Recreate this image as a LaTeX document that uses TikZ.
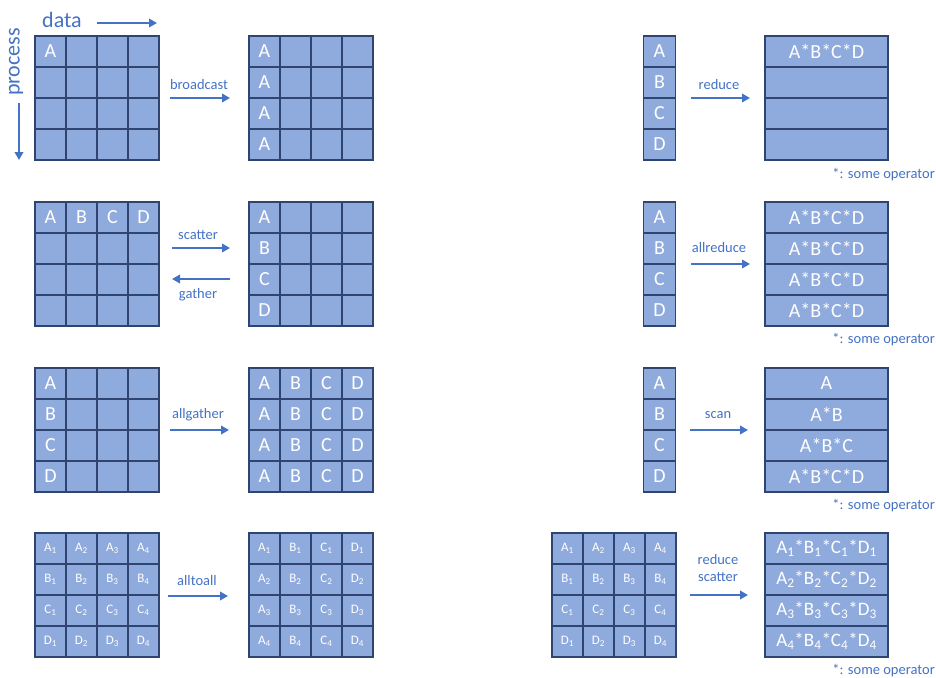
\documentclass[tikz,border=0pt]{standalone}
\usepackage{fontspec}
\setmainfont{Carlito}
\usetikzlibrary{arrows.meta}
\definecolor{cellblue}{HTML}{8FAADC}
\definecolor{gridline}{HTML}{2F4470}
\definecolor{opblue}{HTML}{4472C4}

\begin{document}
\begin{tikzpicture}[x=1pt,y=-1pt,
  cell/.style={draw=gridline,line width=1.1pt,fill=cellblue,minimum width=31pt,minimum height=31pt,inner sep=0pt},
  colcell/.style={cell,minimum width=32pt},
  rowcell/.style={cell,minimum width=123pt},
  txt/.style={text=white,inner sep=0pt,font=\fontsize{20}{24}\selectfont},
  subtxt/.style={text=white,inner sep=0pt,font=\fontsize{13}{15}\selectfont},
  optxt/.style={text=white,inner sep=0pt,font=\fontsize{19}{22}\selectfont},
  op/.style={opblue,line width=2.8pt,-{Triangle[length=8pt,width=8.5pt]}},
  lbl/.style={text=opblue,inner sep=0pt,font=\fontsize{14.5}{17}\selectfont},
  note/.style={lbl,anchor=east},
  axis/.style={text=opblue,inner sep=0pt,font=\fontsize{22}{26}\selectfont}]
  \useasboundingbox (0,0) rectangle (936,677);

  % axes
  \node[axis] (data) at (62,20) {data};
  \coordinate (data-s) at (97,23);
  \coordinate (data-e) at (157,23);
  \draw[op] (data-s) -- (data-e);
  \node[axis,rotate=90] (process) at (16,62) {process};
  \coordinate (proc-s) at (19,103);
  \coordinate (proc-e) at (19,160);
  \draw[op] (proc-s) -- (proc-e);

  % 4x4 grids
  \foreach \g/\x/\y in {bc1/35/36,bc2/249/36,sc1/35/202,sc2/249/202,ag1/35/368,ag2/249/368,aa1/35/533,aa2/249/533,rs1/552/533}
    \foreach \r in {0,...,3}
      \foreach \k in {0,...,3}
        \node[cell] (\g-\r\k) at (\x+15.5+31*\k,\y+15.5+31*\r) {};

  % single columns and wide rows
  \foreach \g/\y in {rd1/36,ar1/202,sn1/368}
    \foreach \r/\t in {0/A,1/B,2/C,3/D} {
      \node[colcell] (\g-\r) at (659.5,\y+15.5+31*\r) {};
      \node[txt] (t\g-\r) at (\g-\r) {\t};
    }
  \foreach \g/\y in {rd2/36,ar2/202,sn2/368,rs2/533}
    \foreach \r in {0,...,3}
      \node[rowcell] (\g-\r) at (826.5,\y+15.5+31*\r) {};

  % cell texts
  \foreach \c/\t in {bc1-00/A,bc2-00/A,bc2-10/A,bc2-20/A,bc2-30/A,
      sc1-00/A,sc1-01/B,sc1-02/C,sc1-03/D,sc2-00/A,sc2-10/B,sc2-20/C,sc2-30/D,
      ag1-00/A,ag1-10/B,ag1-20/C,ag1-30/D}
    \node[txt] (t\c) at (\c) {\t};
  \foreach \r in {0,...,3}
    \foreach \k/\u in {0/A,1/B,2/C,3/D}
      \node[txt] (tag2-\r\k) at (ag2-\r\k) {\u};
  \foreach \r/\t in {0/A,1/B,2/C,3/D}
    \foreach \k in {1,...,4} {
      \pgfmathtruncatemacro\j{\k-1}
      \node[subtxt] (taa1-\r\j) at (aa1-\r\j) {\t\textsubscript{\k}};
      \node[subtxt] (taa2-\j\r) at (aa2-\j\r) {\t\textsubscript{\k}};
      \node[subtxt] (trs1-\r\j) at (rs1-\r\j) {\t\textsubscript{\k}};
    }
  \node[txt] (trd2-0) at (rd2-0) {A*B*C*D};
  \foreach \r in {0,...,3}
    \node[txt] (tar2-\r) at (ar2-\r) {A*B*C*D};
  \foreach \r/\t in {0/A,1/A*B,2/A*B*C,3/A*B*C*D}
    \node[txt] (tsn2-\r) at (sn2-\r) {\t};
  \foreach \k in {1,...,4} {
    \pgfmathtruncatemacro\j{\k-1}
    \node[optxt] (trs2-\j) at (rs2-\j) {A\textsubscript{\k}*B\textsubscript{\k}*C\textsubscript{\k}*D\textsubscript{\k}};
  }

  % operations
  \foreach \n/\xa/\xb/\y in {bc/170/230/98,sc/172/230/248,ag/170/229/430,aa/168/228/596,
      rd/691/750/98,ar/691/750/264,sn/690/748/430,rs/690/748/595}
    \draw[op] (\xa,\y) coordinate (\n-s) -- (\xb,\y) coordinate (\n-e);
  \coordinate (ga-s) at (230,279);
  \coordinate (ga-e) at (172,279);
  \draw[op] (ga-s) -- (ga-e);

  \node[lbl] (bc-l) at (199,85) {broadcast};
  \node[lbl] (sc-l) at (198,235) {scatter};
  \node[lbl] (ga-l) at (198,295) {gather};
  \node[lbl] (ag-l) at (198,415) {allgather};
  \node[lbl] (aa-l) at (197,581) {alltoall};
  \node[lbl] (rd-l) at (719,85) {reduce};
  \node[lbl] (ar-l) at (719,248) {allreduce};
  \node[lbl] (sn-l) at (718,415) {scan};
  \node[lbl,align=center] (rs-l) at (718,568) {reduce\\scatter};

  \foreach \n/\y in {rd/175,ar/340,sn/506,rs/671}
    \node[note] (\n-op) at (935,\y) {*: some operator};
\end{tikzpicture}
\end{document}
